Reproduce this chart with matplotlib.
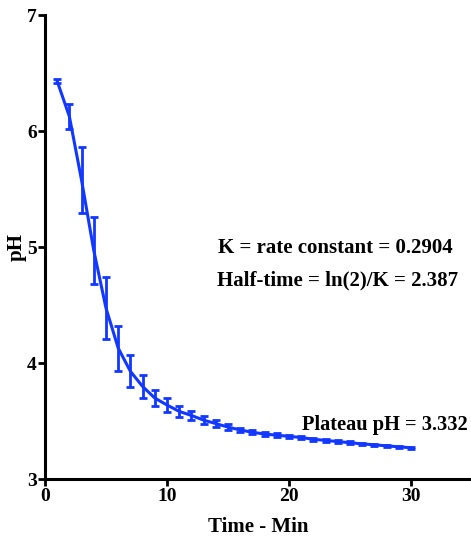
import matplotlib.pyplot as plt
import numpy as np

# pH vs time, mean +/- SD
czas = np.arange(1, 31)
ph = [6.43, 6.125, 5.575, 4.97, 4.475, 4.13, 3.93, 3.80, 3.70, 3.64,
      3.585, 3.55, 3.51, 3.48, 3.45, 3.425, 3.405, 3.39, 3.38, 3.37,
      3.36, 3.345, 3.335, 3.325, 3.315, 3.305, 3.297, 3.288, 3.28, 3.272]
sd = [0.02, 0.105, 0.285, 0.29, 0.265, 0.195, 0.137, 0.10, 0.07, 0.06,
      0.045, 0.04, 0.035, 0.03, 0.025, 0.02, 0.018, 0.016, 0.015, 0.014,
      0.013, 0.012, 0.012, 0.011, 0.011, 0.01, 0.01, 0.01, 0.01, 0.01]

niebieski = '#1238ff'
czcionka = 'Liberation Serif'

fig = plt.figure(figsize=(4.71, 5.39), dpi=100)
ax = fig.add_axes([45/471, 1 - 479.3/539, 1 - 45/471, (479.3 - 15)/539])

ax.plot(czas, ph, color=niebieski, lw=2.2, zorder=3)
ax.errorbar(czas, ph, yerr=sd, fmt='none', ecolor=niebieski, elinewidth=2,
            capsize=2.6, capthick=2, zorder=3)

ax.set_xlim(0, (471 - 45)/12.2)
ax.set_ylim(3, 7)
ax.set_xticks([0, 10, 20, 30])
ax.set_yticks([3, 4, 5, 6, 7])

for s in ['top', 'right']:
    ax.spines[s].set_visible(False)
for s in ['left', 'bottom']:
    ax.spines[s].set_linewidth(2.2)

ax.tick_params(direction='out', length=5, width=2, pad=1)
for lab in ax.get_xticklabels() + ax.get_yticklabels():
    lab.set_fontfamily(czcionka)
    lab.set_fontweight('bold')
    lab.set_fontsize(14)

ax.set_xlabel('Time - Min', fontfamily=czcionka, fontweight='bold', fontsize=15, labelpad=9)
ax.set_ylabel('pH', fontfamily=czcionka, fontweight='bold', fontsize=15, labelpad=0)

opis = dict(fontfamily=czcionka, fontweight='bold', fontsize=15, ha='left', va='center')
ax.text(14.2, 4.99, 'K = rate constant = 0.2904', **opis)
ax.text(14.1, 4.71, 'Half-time = ln(2)/K = 2.387', **opis)
ax.text(21.1, 3.47, 'Plateau pH = 3.332', fontsize=14.7,
        **{k: v for k, v in opis.items() if k != 'fontsize'})

plt.savefig('out.png', dpi=100)
